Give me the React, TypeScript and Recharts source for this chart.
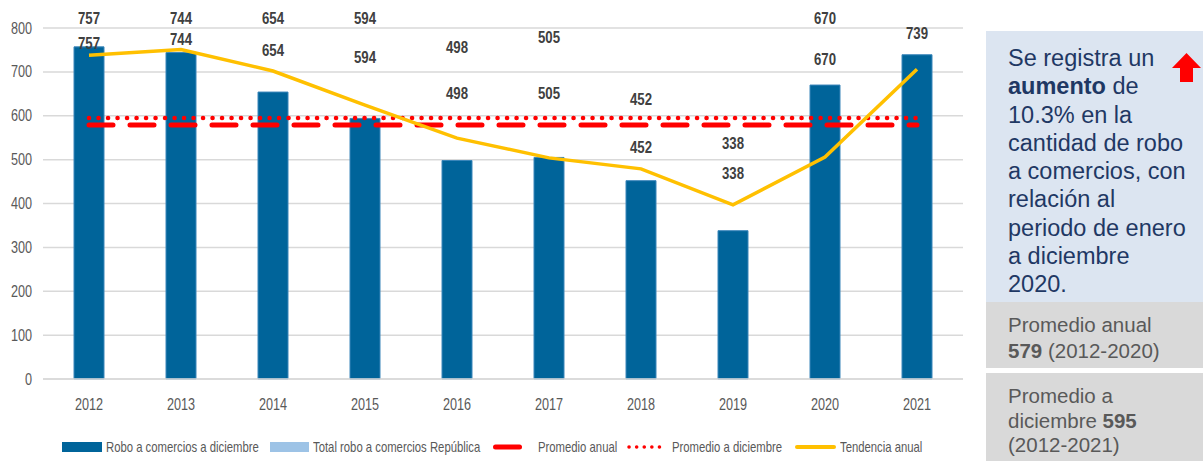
import React from "react";
import {
  ComposedChart,
  Bar,
  Line,
  XAxis,
  YAxis,
  CartesianGrid,
  LabelList,
} from "recharts";

const years = ["2012", "2013", "2014", "2015", "2016", "2017", "2018", "2019", "2020", "2021"];
const roboDiciembre = [757, 744, 654, 594, 498, 505, 452, 338, 670, 739];
const promedioAnual = [579, 579, 579, 579, 579, 579, 579, 579, 579, 579];
const promedioDiciembre = [595, 595, 595, 595, 595, 595, 595, 595, 595, 595];
const tendenciaAnual = [738, 751, 702, 624, 549, 504, 479, 397, 506, 706];
const yTicks = [0, 100, 200, 300, 400, 500, 600, 700, 800];

// where the two rows of value labels sit, in axis units (moved by hand in the original)
const labelRowTop = [822, 822, 822, 822, 756, 779, 638, 538, 822, 788];
const labelRowLow = [767, 776, 749, 733, 652, 652, 529, 470, 729, null];

const data = years.map((year, i) => ({
  year,
  robo: roboDiciembre[i],
  anual: promedioAnual[i],
  dic: promedioDiciembre[i],
  tend: tendenciaAnual[i],
}));

// no Arial Narrow here, so squeeze Liberation Sans instead
const ARIAL = "'Liberation Sans', Arial, sans-serif";

const BLUE = "#00649A";
const RED = "#FF0000";
const GOLD = "#FFC000";

const NarrowText = ({ x, y, children, anchor = "middle", size = 16, squeeze = 0.79, bold = false, fill = "#595959", baseline }: any) => (
  <text
    transform={`translate(${x},${y}) scale(${squeeze},1)`}
    textAnchor={anchor}
    dominantBaseline={baseline}
    fontFamily={ARIAL}
    fontWeight={bold ? "bold" : "normal"}
    fontSize={size}
    fill={fill}
  >
    {children}
  </text>
);

const XTick = ({ x, y, payload }: any) => (
  <NarrowText x={x} y={y + 15}>
    {payload.value}
  </NarrowText>
);

const YTick = ({ x, y, payload }: any) => (
  <NarrowText x={x} y={y} anchor="end" baseline="central">
    {payload.value}
  </NarrowText>
);

const makeLabel = (row: (number | null)[]) => (props: any) => {
  const { index } = props;
  const vb = props.viewBox || props;
  const anchor = row[index];
  const value = roboDiciembre[index];
  if (anchor == null || !vb || !vb.height) return null;
  const base = vb.y + vb.height;
  const k = vb.height / value;
  const cy = base - anchor * k;
  return (
    <NarrowText x={vb.x + vb.width / 2} y={cy} size={16.5} squeeze={0.8} bold fill="#404040" baseline="central">
      {value}
    </NarrowText>
  );
};

const legendText: React.CSSProperties = {
  position: "absolute",
  top: 438,
  fontFamily: ARIAL,
  fontSize: 14.5,
  color: "#595959",
  whiteSpace: "nowrap",
  lineHeight: "18px",
  transform: "scaleX(0.78)",
  transformOrigin: "left center",
};

function Legend() {
  return (
    <>
      <div style={{ position: "absolute", left: 62, top: 442, width: 40, height: 10, background: BLUE }} />
      <div style={{ ...legendText, left: 106 }}>Robo a comercios a diciembre</div>
      <div style={{ position: "absolute", left: 270, top: 442, width: 39, height: 10, background: "#9DC3E6" }} />
      <div style={{ ...legendText, left: 313 }}>Total robo a comercios República</div>
      <svg style={{ position: "absolute", left: 490, top: 440 }} width={34} height={14}>
        <line x1={5.5} y1={7} x2={29.5} y2={7} stroke={RED} strokeWidth={5} strokeLinecap="round" />
      </svg>
      <div style={{ ...legendText, left: 538 }}>Promedio anual</div>
      <svg style={{ position: "absolute", left: 626, top: 440 }} width={44} height={14}>
        <line x1={3} y1={7} x2={41} y2={7} stroke={RED} strokeWidth={3.5} strokeLinecap="round" strokeDasharray="0.1 7.5" />
      </svg>
      <div style={{ ...legendText, left: 672 }}>Promedio a diciembre</div>
      <svg style={{ position: "absolute", left: 794, top: 440 }} width={44} height={14}>
        <line x1={3} y1={7} x2={40} y2={7} stroke={GOLD} strokeWidth={4} strokeLinecap="round" />
      </svg>
      <div style={{ ...legendText, left: 840 }}>Tendencia anual</div>
    </>
  );
}

function SidePanel() {
  return (
    <>
      <div
        style={{
          position: "absolute",
          left: 986,
          top: 31,
          width: 217,
          height: 271,
          background: "#DCE5F1",
        }}
      />
      <div
        style={{
          position: "absolute",
          left: 1008,
          top: 44,
          fontFamily: ARIAL,
          fontSize: 23.5,
          lineHeight: "28.3px",
          color: "#1F3864",
          whiteSpace: "nowrap",
        }}
      >
        Se registra un
        <br />
        <b>aumento</b> de
        <br />
        10.3% en la
        <br />
        cantidad de robo
        <br />
        a comercios, con
        <br />
        relación al
        <br />
        periodo de enero
        <br />
        a diciembre
        <br />
        2020.
      </div>
      <svg style={{ position: "absolute", left: 1171, top: 52 }} width={32} height={32}>
        <polygon points="1,16 15.5,1 30,16 22,16 22,30 9,30 9,16" fill={RED} />
      </svg>
      <div
        style={{
          position: "absolute",
          left: 986,
          top: 302,
          width: 217,
          height: 66,
          background: "#D9D9D9",
        }}
      />
      <div
        style={{
          position: "absolute",
          left: 1008,
          top: 312,
          fontFamily: ARIAL,
          fontSize: 20.5,
          lineHeight: "26px",
          color: "#595959",
          whiteSpace: "nowrap",
        }}
      >
        Promedio anual
        <br />
        <b>579</b> (2012-2020)
      </div>
      <div
        style={{
          position: "absolute",
          left: 986,
          top: 373,
          width: 217,
          height: 88,
          background: "#D9D9D9",
        }}
      />
      <div
        style={{
          position: "absolute",
          left: 1008,
          top: 384,
          fontFamily: ARIAL,
          fontSize: 20.5,
          lineHeight: "24.5px",
          color: "#595959",
          whiteSpace: "nowrap",
        }}
      >
        Promedio a
        <br />
        diciembre <b>595</b>
        <br />
        (2012-2021)
      </div>
    </>
  );
}

export default function App() {
  return (
    <div
      style={{
        position: "absolute",
        left: 0,
        top: 0,
        width: 1203,
        height: 461,
        background: "#fff",
        overflow: "hidden",
      }}
    >
      <ComposedChart
        width={975}
        height={461}
        data={data}
        margin={{ top: 28, right: 12, bottom: 0, left: 0 }}
        barSize={30}
      >
        <CartesianGrid vertical={false} stroke="#D9D9D9" strokeWidth={1.5} />
        <XAxis
          dataKey="year"
          height={82}
          tickLine={false}
          axisLine={{ stroke: "#D9D9D9", strokeWidth: 1.5 }}
          tickMargin={10}
          tick={<XTick />}
          interval={0}
        />
        <YAxis
          width={43}
          domain={[0, 800]}
          ticks={yTicks}
          tickLine={false}
          axisLine={false}
          tickMargin={5}
          tick={<YTick />}
        />
        <Bar dataKey="robo" fill={BLUE} stroke="#3A86BA" strokeWidth={1} isAnimationActive={false}>
          <LabelList dataKey="robo" content={makeLabel(labelRowTop)} />
          <LabelList dataKey="robo" content={makeLabel(labelRowLow)} />
        </Bar>
        <Line
          dataKey="anual"
          stroke={RED}
          strokeWidth={5}
          strokeDasharray="24 17"
          strokeLinecap="round"
          dot={false}
          activeDot={false}
          isAnimationActive={false}
        />
        <Line
          dataKey="dic"
          stroke={RED}
          strokeWidth={4.5}
          strokeDasharray="0.1 9.4"
          strokeLinecap="round"
          dot={false}
          activeDot={false}
          isAnimationActive={false}
        />
        <Line
          dataKey="tend"
          stroke={GOLD}
          strokeWidth={3.5}
          dot={false}
          activeDot={false}
          isAnimationActive={false}
        />
      </ComposedChart>
      <Legend />
      <SidePanel />
    </div>
  );
}
